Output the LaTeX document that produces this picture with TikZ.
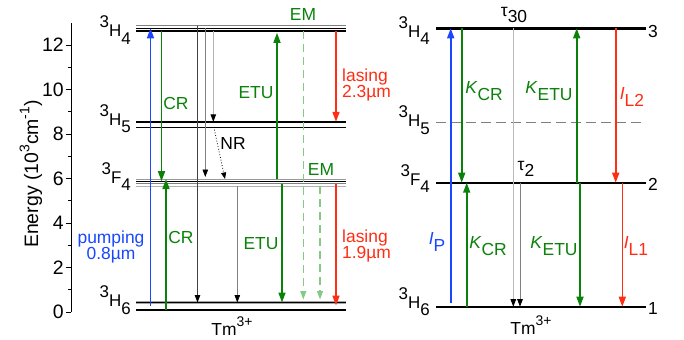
\documentclass[tikz,border=0pt]{standalone}
\usepackage{fontspec}
\setmainfont{Liberation Sans}
\usetikzlibrary{arrows.meta}
\definecolor{pblue}{RGB}{25,70,255}
\definecolor{dgreen}{RGB}{10,130,10}
\definecolor{lgreen}{RGB}{135,200,135}
\definecolor{lred}{RGB}{255,45,20}
\newcommand{\lvl}[3]{\raisebox{0.52em}{#1}#2\raisebox{-0.45em}{#3}}
\newcommand{\lsb}[1]{\raisebox{-0.38em}{#1}}
\begin{document}
\begin{tikzpicture}[x=1bp,y=-1bp,
  txt/.style={inner sep=0pt,font=\fontsize{17.5}{18}\selectfont},
  tick/.style={inner sep=0pt,font=\fontsize{19.5}{19.5}\selectfont,anchor=east},
  lvltxt/.style={inner sep=0pt,font=\fontsize{17}{17}\selectfont,anchor=base east},
  bigtip/.style={-{Triangle[length=10bp,width=7bp]}},
  smalltip/.style={-{Triangle[length=7.5bp,width=5.5bp,color=black]}},
  colarrow/.style={line width=1.6bp,bigtip},
  thinarrow/.style={line width=0.9bp,smalltip},
  lev/.style={line width=2.4bp,black}]
\useasboundingbox (0,0) rectangle (684,339);
% ---------------- axis
\coordinate (ax0) at (71,312);
\coordinate (axT) at (71,22.7);
\draw[line width=0.9bp] (ax0) -- (axT);
\foreach \v in {0,2,...,12}{
  \draw[line width=0.9bp] (71,312-22.25*\v) -- ++(-5,0);
  \node[tick] at (64,312-22.25*\v) {\v};
}
\foreach \v in {1,3,...,11}{
  \draw[line width=0.8bp] (71,312-22.25*\v) -- ++(-3,0);
}
\node[inner sep=0pt,font=\fontsize{19.5}{19.5}\selectfont,rotate=90] (ylab) at (31,174)
  {Energy (10\raisebox{0.45em}{\fontsize{14}{14}\selectfont 3}cm\raisebox{0.45em}{\fontsize{14}{14}\selectfont -1})};
% ---------------- left levels
\coordinate (a4g) at (0,25.7); \coordinate (a4b) at (0,28.3); \coordinate (a4t) at (0,30.8);
\coordinate (a5t) at (0,121.8); \coordinate (a5b) at (0,127);
\coordinate (a2g) at (0,179); \coordinate (a2b) at (0,181.2); \coordinate (a2c) at (0,183.5); \coordinate (a2d) at (0,186);
\coordinate (a1g) at (0,302.5); \coordinate (a1b) at (0,310);
\def\xl{136}\def\xr{345.5}
\draw[gray,line width=0.9bp] (\xl,0|-a4g) -- (\xr,0|-a4g);
\draw[black,line width=1bp] (\xl,0|-a4b) -- (\xr,0|-a4b);
\draw[black,line width=1.9bp] (\xl,0|-a4t) -- (\xr,0|-a4t);
\draw[black,line width=1.7bp] (\xl,0|-a5t) -- (\xr,0|-a5t);
\draw[black,line width=1bp] (\xl,0|-a5b) -- (\xr,0|-a5b);
\draw[gray!80,line width=0.9bp] (\xl,0|-a2g) -- (\xr,0|-a2g);
\draw[black,line width=1.3bp] (\xl,0|-a2b) -- (\xr,0|-a2b);
\draw[gray,line width=0.9bp] (\xl,0|-a2c) -- (\xr,0|-a2c);
\draw[gray!60,line width=0.9bp] (\xl,0|-a2d) -- (\xr,0|-a2d);
\draw[gray!70,line width=3.6bp] (\xl,0|-a1g) -- (\xr,0|-a1g);
\draw[black,line width=1.1bp] (\xl,0|-a1g) -- (\xr,0|-a1g);
\draw[black,line width=1.5bp] (\xl,0|-a1b) -- (\xr,0|-a1b);
\node[lvltxt] (lA4) at (131,36.7) {\lvl{3}{H}{4}};
\node[lvltxt] (lA5) at (131,125) {\lvl{3}{H}{5}};
\node[lvltxt] (lA2) at (131,183.3) {\lvl{3}{F}{4}};
\node[lvltxt] (lA1) at (131,306.7) {\lvl{3}{H}{6}};
% left transitions
\draw[pblue,colarrow,shorten <=-3bp] (150.5,0|-a1g) -- (150.5,0|-a4b);
\draw[dgreen,colarrow] (161.5,0|-a4t) -- (161.5,0|-a2b);
\draw[dgreen,colarrow] (166,0|-a1b) -- (166,0|-a2g);
\draw[black!75,thinarrow] (197.5,0|-a4g) -- (197.5,0|-a1g);
\draw[gray,thinarrow,shorten >=2bp] (205.3,0|-a4b) -- (205.3,0|-a2g);
\draw[gray!60,thinarrow] (213.3,0|-a4t) -- (213.3,0|-a5t);
\draw[black,line width=0.8bp,dotted,-{Triangle[length=6.5bp,width=5bp]}] (213.8,0|-a5b) -- (225,0|-a2g);
\draw[gray,thinarrow] (237.3,0|-a2d) -- (237.3,0|-a1g);
\draw[dgreen,colarrow,shorten >=2bp] (277,0|-a2g) -- (277,0|-a4t);
\draw[dgreen,colarrow] (282,0|-a2c) -- (282,0|-a1g);
\draw[lgreen,line width=1.1bp,dash pattern=on 8bp off 5bp,-{Triangle[length=8.5bp,width=6bp]},shorten >=3bp] (303.3,0|-a4t) -- (303.3,0|-a1g);
\draw[lgreen,line width=1.1bp,dash pattern=on 8bp off 5bp,-{Triangle[length=8.5bp,width=6bp]},shorten >=3bp] (320,0|-a2d) -- (320,0|-a1g);
\draw[lred,colarrow] (336,0|-a4t) -- (336,0|-a5t);
\draw[lred,colarrow,shorten >=-3bp] (336,0|-a2c) -- (336,0|-a1g);
% left labels
\node[txt,dgreen] (cr1) at (176,103) {CR};
\node[txt,dgreen] (cr2) at (181,237) {CR};
\node[txt,black] (nr) at (233,143) {NR};
\node[txt,dgreen] (etu1) at (256,93) {ETU};
\node[txt,dgreen] (etu2) at (261,244) {ETU};
\node[txt,dgreen] (em1) at (303,14) {EM};
\node[txt,dgreen] (em2) at (321,169) {EM};
\node[txt,lred,anchor=west,align=left] (las1) at (342,85) {lasing\\[-2bp]2.3µm};
\node[txt,lred,anchor=west,align=left] (las2) at (342,246) {lasing\\[-2bp]1.9µm};
\node[txt,pblue,align=center] (pump) at (111,247) {pumping\\[-2bp]0.8µm};
\node[txt,black,anchor=base] (tmA) at (232,335) {Tm\raisebox{0.5em}{\fontsize{14}{14}\selectfont 3+}};
% ---------------- right levels
\coordinate (b3) at (0,28.3); \coordinate (b25) at (0,122.3);
\coordinate (b2) at (0,182.7); \coordinate (b1) at (0,306.7);
\def\xL{436}\def\xR{646}
\draw[lev] (\xL,0|-b3) -- (\xR,0|-b3);
\draw[gray,line width=0.9bp,dash pattern=on 10bp off 5bp] (\xL,0|-b25) -- (\xR,0|-b25);
\draw[lev] (\xL,0|-b2) -- (\xR,0|-b2);
\draw[lev] (\xL,0|-b1) -- (\xR,0|-b1);
\node[lvltxt] (lB4) at (430,37) {\lvl{3}{H}{4}};
\node[lvltxt] (lB5) at (430,126.7) {\lvl{3}{H}{5}};
\node[lvltxt] (lB2) at (430,185) {\lvl{3}{F}{4}};
\node[lvltxt] (lB1) at (430,308) {\lvl{3}{H}{6}};
\node[txt,anchor=west] (n3) at (648,31) {3};
\node[txt,anchor=west] (n2) at (648,184) {2};
\node[txt,anchor=west] (n1) at (648,308) {1};
% right transitions
\draw[pblue,colarrow,shorten <=4bp] (450.7,0|-b1) -- (450.7,0|-b3);
\draw[dgreen,colarrow] (461.7,0|-b3) -- (461.7,0|-b2);
\draw[dgreen,colarrow] (466.7,0|-b1) -- (466.7,0|-b2);
\draw[gray!55,thinarrow] (513.3,0|-b3) -- (513.3,0|-b1);
\draw[gray,thinarrow] (520,0|-b2) -- (520,0|-b1);
\draw[dgreen,colarrow] (576.7,0|-b2) -- (576.7,0|-b3);
\draw[dgreen,colarrow] (580,0|-b2) -- (580,0|-b1);
\draw[lred,colarrow] (615.7,0|-b3) -- (615.7,0|-b2);
\draw[lred,colarrow] (622.3,0|-b2) -- (622.3,0|-b1);
% right labels
\node[txt] (tau30) at (514,15) {τ\lsb{30}};
\node[txt] (tau2) at (526,169) {τ\lsb{2}};
\node[txt,pblue] (ip) at (437,242) {\textit{I}\lsb{P}};
\node[txt,dgreen] (kcr1) at (484,91) {\textit{K}\lsb{CR}};
\node[txt,dgreen] (kcr2) at (488,246) {\textit{K}\lsb{CR}};
\node[txt,dgreen] (ketu1) at (549,91) {\textit{K}\lsb{ETU}};
\node[txt,dgreen] (ketu2) at (554,246) {\textit{K}\lsb{ETU}};
\node[txt,lred] (il2) at (632,97) {\textit{I}\lsb{L2}};
\node[txt,lred] (il1) at (636,246) {\textit{I}\lsb{L1}};
\node[txt,black,anchor=base] (tmB) at (531,334) {Tm\raisebox{0.5em}{\fontsize{14}{14}\selectfont 3+}};
\end{tikzpicture}
\end{document}
